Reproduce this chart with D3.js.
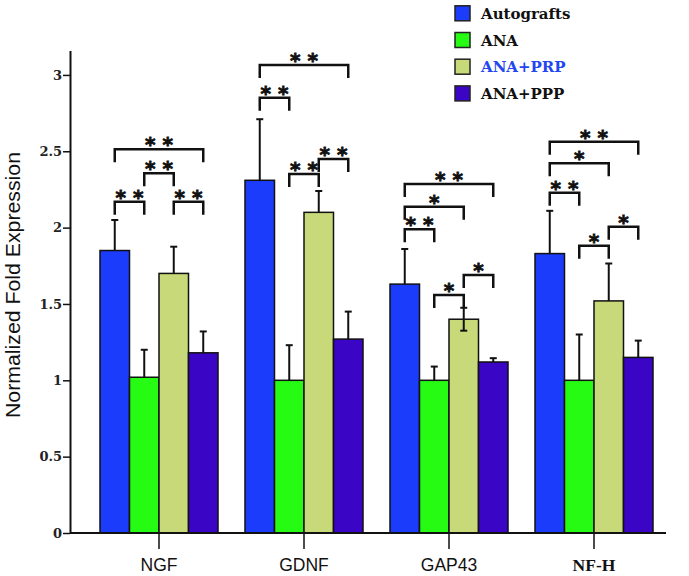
<!DOCTYPE html>
<html><head><meta charset="utf-8">
<script src="https://cdn.jsdelivr.net/npm/d3@7"></script>
<style>body{margin:0;background:#fff}svg{display:block}</style>
</head><body><div id="chart"></div>
<script>
const categories = ["NGF", "GDNF", "GAP43", "NF-H"];
const series = ["Autografts", "ANA", "ANA+PRP", "ANA+PPP"];
const autografts    = [1.85, 2.31, 1.63, 1.83];
const autograftsErr = [0.20, 0.40, 0.23, 0.28];
const ana           = [1.02, 1.00, 1.00, 1.00];
const anaErr        = [0.18, 0.23, 0.09, 0.30];
const anaPrp        = [1.70, 2.10, 1.40, 1.52];
const anaPrpErr     = [0.175, 0.14, 0.075, 0.245];
const anaPpp        = [1.18, 1.27, 1.12, 1.15];
const anaPppErr     = [0.14, 0.18, 0.025, 0.11];
const twoSidedErr = [["GAP43", "ANA+PRP"]];
const yTicks = [0, 0.5, 1, 1.5, 2, 2.5, 3];
const yTickLabels = ["0", "0.5", "1", "1.5", "2", "2.5", "3"];
// significance brackets: [category, from, to, level, label]
const brackets = [
  ["NGF", "Autografts", "ANA", 2.17, "**"],
  ["NGF", "ANA", "ANA+PRP", 2.356, "**"],
  ["NGF", "ANA+PRP", "ANA+PPP", 2.17, "**"],
  ["NGF", "Autografts", "ANA+PPP", 2.513, "**"],
  ["GDNF", "Autografts", "ANA+PPP", 3.065, "**"],
  ["GDNF", "Autografts", "ANA", 2.851, "**"],
  ["GDNF", "ANA", "ANA+PRP", 2.351, "**"],
  ["GDNF", "ANA+PRP", "ANA+PPP", 2.449, "**"],
  ["GAP43", "Autografts", "ANA+PPP", 2.286, "**"],
  ["GAP43", "Autografts", "ANA+PRP", 2.137, "*"],
  ["GAP43", "Autografts", "ANA", 1.989, "**"],
  ["GAP43", "ANA", "ANA+PRP", 1.559, "*"],
  ["GAP43", "ANA+PRP", "ANA+PPP", 1.690, "*"],
  ["NF-H", "Autografts", "ANA+PPP", 2.563, "**"],
  ["NF-H", "Autografts", "ANA+PRP", 2.421, "*"],
  ["NF-H", "Autografts", "ANA", 2.229, "**"],
  ["NF-H", "ANA", "ANA+PRP", 1.881, "*"],
  ["NF-H", "ANA+PRP", "ANA+PPP", 2.006, "*"]
];

const colors = ["#1b3cfb", "#26fb14", "#c8d97a", "#3a05c4"];
const values = [autografts, ana, anaPrp, anaPpp];
const errs = [autograftsErr, anaErr, anaPrpErr, anaPppErr];

const W = 689, H = 576;
const svg = d3.select("#chart").append("svg").attr("width", W).attr("height", H);

const y = d3.scaleLinear().domain([0, 3.16]).range([533, 50.5]);
const x0 = d3.scaleBand().domain(categories).range([86.5, 666.5]).padding(0);
const x1 = d3.scaleBand().domain(series).range([13.5, 131.5]).padding(0);
const color = d3.scaleOrdinal().domain(series).range(colors);

const data = [];
categories.forEach((c, ci) => series.forEach((s, si) => {
  data.push({c, s, v: values[si][ci], e: errs[si][ci],
    two: twoSidedErr.some(t => t[0] === c && t[1] === s)});
}));
const cx = d => x0(d.c) + x1(d.s) + x1.bandwidth() / 2;

const g = svg.append("g");
g.selectAll("rect.bar").data(data).join("rect").attr("class", "bar")
  .attr("x", d => x0(d.c) + x1(d.s)).attr("width", x1.bandwidth())
  .attr("y", d => y(d.v)).attr("height", d => y(0) - y(d.v))
  .attr("fill", d => color(d.s)).attr("stroke", "#111").attr("stroke-width", 1.5);

const eb = svg.append("g").attr("stroke", "#111").attr("stroke-width", 2);
data.forEach(d => {
  const lo = d.two ? d.v - d.e : d.v;
  eb.append("line").attr("x1", cx(d)).attr("x2", cx(d)).attr("y1", y(lo)).attr("y2", y(d.v + d.e));
  eb.append("line").attr("x1", cx(d) - 3.5).attr("x2", cx(d) + 3.5).attr("y1", y(d.v + d.e)).attr("y2", y(d.v + d.e));
  if (d.two) eb.append("line").attr("x1", cx(d) - 3.5).attr("x2", cx(d) + 3.5).attr("y1", y(lo)).attr("y2", y(lo));
});

// axes
const yAxis = svg.append("g").attr("transform", "translate(70,0)")
  .call(d3.axisLeft(y).tickValues(yTicks).tickFormat((d, i) => yTickLabels[i]).tickSize(7).tickSizeOuter(0));
yAxis.select(".domain").attr("stroke", "#111").attr("stroke-width", 2);
yAxis.selectAll(".tick line").attr("stroke", "#111").attr("stroke-width", 1.5);
yAxis.selectAll(".tick text").attr("font-family", "DejaVu Serif").attr("font-weight", "bold")
  .attr("font-size", 13).attr("fill", "#222").attr("x", -8);

svg.append("line").attr("x1", 70).attr("x2", 666).attr("y1", y(0)).attr("y2", y(0))
  .attr("stroke", "#111").attr("stroke-width", 2);
const xAxis = svg.append("g").attr("transform", `translate(0,${y(0)})`)
  .call(d3.axisBottom(x0).tickSize(16));
xAxis.select(".domain").remove();
xAxis.selectAll(".tick line").attr("stroke", "#111").attr("stroke-width", 1.5);
xAxis.selectAll(".tick text").attr("font-family", d => d === "NF-H" ? "Liberation Serif, serif" : "Liberation Sans, Arial, sans-serif")
  .attr("font-weight", d => d === "NF-H" ? "bold" : "normal")
  .attr("font-size", 17.5).attr("fill", "#111").attr("y", 0).attr("dy", 0)
  .attr("transform", "translate(0,38)");

svg.append("text").attr("transform", "translate(20,285) rotate(-90)")
  .attr("text-anchor", "middle").attr("font-family", "Liberation Sans, Arial, sans-serif")
  .attr("font-size", 20).attr("textLength", 266).attr("lengthAdjust", "spacingAndGlyphs")
  .attr("fill", "#111").text("Normalized Fold Expression");

// brackets
const bg = svg.append("g");
const sx = (c, s) => x0(c) + x1(s) + x1.bandwidth() / 2;
brackets.forEach(([c, a, b, lvl, lab]) => {
  const xa = sx(c, a), xb = sx(c, b), yy = y(lvl);
  bg.append("path").attr("d", `M${xa},${yy + 13}V${yy}H${xb}V${yy + 13}`)
    .attr("fill", "none").attr("stroke", "#111").attr("stroke-width", 2.5);
  bg.append("text").attr("x", (xa + xb) / 2).attr("y", yy + 2)
    .attr("text-anchor", "middle").attr("font-family", "DejaVu Sans")
    .attr("font-weight", "bold").attr("font-size", 20).attr("fill", "#111")
    .attr("stroke", "#111").attr("stroke-width", 0.8)
    .text(lab.split("").join(" "));
});

// legend
const lg = svg.append("g");
series.forEach((s, i) => {
  const cy = 13.3 + i * 26.7;
  lg.append("rect").attr("x", 455).attr("y", cy - 7.5).attr("width", 15).attr("height", 15)
    .attr("fill", colors[i]).attr("stroke", "#222").attr("stroke-width", 1.5);
  lg.append("text").attr("x", 481).attr("y", cy + 5.5)
    .attr("font-family", "DejaVu Serif").attr("font-weight", "bold").attr("font-size", 15)
    .attr("fill", s === "ANA+PRP" ? "#2346f0" : "#111").text(s);
});
</script></body></html>
